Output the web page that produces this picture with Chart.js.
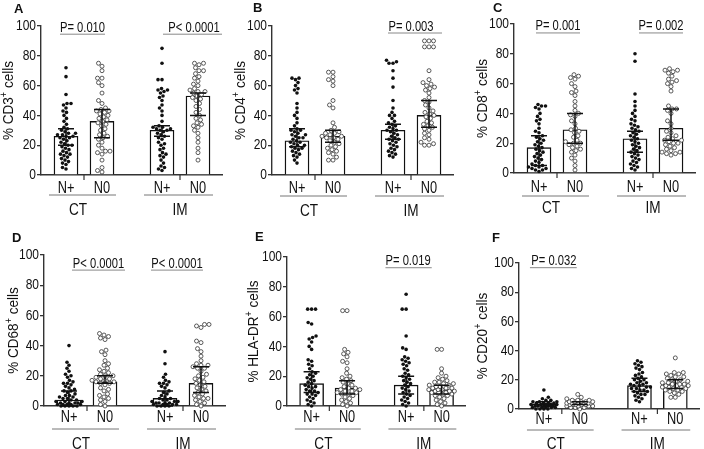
<!DOCTYPE html>
<html>
<head>
<meta charset="utf-8">
<script src="https://cdn.jsdelivr.net/npm/chart.js@4.4.0/dist/chart.umd.min.js"></script>
<style>
  html, body { margin: 0; padding: 0; background: #fff; }
  #fig { position: relative; width: 704px; height: 449px; overflow: hidden; }
  #fig canvas { position: absolute; }
</style>
</head>
<body>
<div id="fig"></div>
<script>
// categories
const groups = ['N+', 'N0', 'N+', 'N0'];
const regions = ['CT', 'IM'];
const panelLetters = ['A', 'B', 'C', 'D', 'E', 'F'];
const markers = ['CD3', 'CD4', 'CD8', 'CD68', 'HLA-DR', 'CD20'];
const yTicks = [0, 20, 40, 60, 80, 100];

// individual patients: CT N+, CT N0, IM N+, IM N0
const cd3Values = [
  [72,66,54,48,48,47,45,43,42,40,38,36,34,32,31,30,29,28,28,27,27,26,26,25,25,24,23,22,21,20,20,19,18,17,16,15,14,14,13,12,11,10,9,8,7,5,4],
  [75,73,70,65,65,62,60,55,50,48,45,44,43,43,42,41,40,39,38,37,36,35,34,33,31,30,28,27,26,25,24,22,20,18,16,16,15,14,10,5,3,2],
  [85,75,64,64,58,57,57,56,55,53,52,50,47,45,43,40,36,33,32,32,31,31,30,30,29,28,27,26,25,24,22,21,20,18,17,15,14,13,12,10,8,6,5,4,3],
  [75,75,74,72,70,70,68,66,65,63,61,60,58,57,56,56,55,54,53,52,51,50,48,46,44,42,40,38,37,35,34,33,32,30,28,25,22,18,15,10]
];
const cd4Values = [
  [65,65,64,62,60,58,57,55,48,45,42,40,38,35,33,31,30,30,29,28,27,27,26,25,25,24,23,22,22,21,20,20,19,18,18,17,16,15,14,13,12,10,8],
  [69,69,66,64,63,60,50,47,45,35,32,30,29,28,28,27,26,26,25,25,24,23,22,21,20,19,18,17,16,15,14,12,10,10],
  [77,76,75,75,70,65,59,50,45,42,40,40,38,36,35,34,33,32,31,30,30,29,28,27,26,25,24,24,23,22,21,20,19,18,17,16,15,14,13,12],
  [90,90,90,86,86,86,70,64,62,61,60,59,58,57,55,52,50,49,47,45,43,42,41,40,39,38,36,35,34,33,32,31,30,28,27,25,24,22,21,20,20]
];
const cd8Values = [
  [46,45,45,44,43,40,38,36,35,33,30,28,27,25,24,23,22,21,20,19,18,17,16,15,14,13,12,11,10,9,8,7,6,5,5,4,4,3,3,2,2,1],
  [66,65,64,63,60,58,55,54,52,48,45,42,40,39,38,35,33,30,29,28,27,25,24,22,21,20,20,19,18,17,16,15,14,12,10,8,5,2],
  [80,75,53,48,45,42,40,38,36,35,33,32,31,30,29,28,27,26,25,24,23,22,21,20,19,18,17,16,15,14,13,12,11,10,9,8,7,6,5,4,3,2],
  [70,69,69,68,67,65,63,62,61,60,58,55,45,43,43,42,40,35,33,30,28,27,25,24,23,22,22,21,20,20,19,18,17,16,15,14,14,13,13,12]
];
const cd68Values = [
  [40,29,27,25,23,21,20,19,17,16,15,15,14,13,12,11,10,10,9,8,7,7,6,6,5,5,4,4,3,3,3,2,2,2,2,1,1,1,1,1,0,0,0,0,0],
  [48,47,46,45,44,37,36,34,30,28,27,25,24,23,22,21,20,20,19,18,18,17,17,16,16,15,15,14,12,11,10,8,7,6,5,4,3,1,0],
  [36,28,21,19,17,16,15,15,14,13,12,10,9,8,7,6,5,5,4,4,3,3,3,2,2,2,2,1,1,1,1,1,0,0,0,0],
  [54,54,53,52,43,42,38,36,33,30,28,27,27,26,25,25,23,21,20,19,18,17,16,15,14,13,12,11,10,9,8,7,6,5,5,4,3,2,1,0]
];
const hladrValues = [
  [65,65,65,56,55,47,46,45,43,40,38,31,30,28,27,25,23,22,21,20,19,18,17,16,15,14,13,13,12,11,10,10,9,8,8,7,6,5,4,3,2,1,0],
  [64,64,38,36,35,33,30,29,25,22,20,19,18,17,16,15,14,13,12,12,11,11,10,10,9,9,8,8,7,6,5,4,3,2,1,0],
  [75,65,65,47,39,38,33,32,31,30,29,28,27,25,24,22,21,20,19,18,17,16,15,14,13,12,11,10,9,8,7,6,5,4,3,2,1,0],
  [38,38,25,22,20,19,18,17,16,16,15,15,14,14,13,13,12,12,12,11,11,11,10,10,10,9,9,9,8,8,7,7,6,5,4,3,2,1,0]
];
const cd20Values = [
  [13,8,7,6,6,5,5,5,4,4,4,4,3,3,3,3,3,2,2,2,2,2,1,1,1,1,1,0,0,0,0],
  [10,8,7,6,6,6,5,5,5,5,5,4,4,4,4,4,4,3,3,3,3,3,2,2,2,2,1,1,1,0],
  [33,32,31,30,29,28,27,25,24,23,22,21,20,20,19,18,18,17,17,16,16,15,15,14,14,13,13,12,12,11,10,10,9,8,7,6,5],
  [35,25,25,24,24,23,22,22,21,20,20,19,19,18,18,17,17,17,16,16,16,15,15,15,14,14,13,13,12,12,11,10,8,8]
];
const allValues = [cd3Values, cd4Values, cd8Values, cd68Values, hladrValues, cd20Values];

// bar height (median) and error bar range per panel
const medians = [[26,36,30,53], [23,26,30,40], [17,29,23,30], [4,16,5,15], [15,12,14,11], [3.5,4,16,17]];
const errLow  = [[20,25,26,40], [19,22,24,32], [5,20,14,22], [0,15,0,9], [9,8,8,8], [2,3,12,14]];
const errHigh = [[31,44,33,55], [31,30,34,50], [25,40,28,43], [10,20,10,26], [23,17,20,14], [5,5,21,20]];

// p values: [CT, IM]
const pValues = [
  ['P= 0.010', 'P< 0.0001'],
  [null, 'P= 0.003'],
  ['P= 0.001', 'P= 0.002'],
  ['P< 0.0001', 'P< 0.0001'],
  [null, 'P= 0.019'],
  ['P= 0.032', null]
];

// ---- layout ----
const FONT = "'Liberation Sans', Arial, sans-serif";
const NARROW = 0.8;
const xPos = [25, 61, 121, 157];
const axisLen = 181;
const panels = [
  {left: 0,   top: 0,   w: 240, h: 225, ax: 41, yTop: 26, yBot: 175, letter: [14, 3],  titleOff: 28, nBase: 18, ulOff: 20, grpBase: 40,
   p: [{x0: 19, x1: 64, tx: 41.5, y: 94.5}, {x0: 122, x1: 181, tx: 153, y: 94.5}]},
  {left: 230, top: 0,   w: 240, h: 225, ax: 42, yTop: 26, yBot: 175, letter: [23, 2],  titleOff: 27, nBase: 18, ulOff: 21, grpBase: 41,
   p: [null, {x0: 116, x1: 170, tx: 139, y: 95.3}]},
  {left: 460, top: 0,   w: 244, h: 225, ax: 54, yTop: 24, yBot: 173, letter: [33, 2],  titleOff: 27, nBase: 19, ulOff: 23, grpBase: 40,
   p: [{x0: 22, x1: 66, tx: 44, y: 94}, {x0: 125, x1: 169, tx: 147, y: 94}]},
  {left: 0,   top: 225, w: 240, h: 224, ax: 44, yTop: 30, yBot: 181, letter: [12, 7],  titleOff: 26, nBase: 16, ulOff: 23, grpBase: 43,
   p: [{x0: 28, x1: 81, tx: 54.5, y: 90}, {x0: 107, x1: 159, tx: 133, y: 90}]},
  {left: 230, top: 225, w: 240, h: 224, ax: 57, yTop: 32, yBot: 181, letter: [25, 6],  titleOff: 29, nBase: 16, ulOff: 23, grpBase: 43,
   p: [null, {x0: 100, x1: 147, tx: 123, y: 92.8}]},
  {left: 460, top: 225, w: 244, h: 224, ax: 59, yTop: 38, yBot: 184, letter: [32, 7],  titleOff: 32, nBase: 15, ulOff: 21, grpBase: 40,
   p: [{x0: 11, x1: 58, tx: 35, y: 96.8}, null]}
];
const regionLine = [[8, 75], [103, 172]];
const regionText = [37, 139];
const midTicks = [43, 139];
const maxSpread = 13;

// simple beeswarm: spreads points sideways, overlapping them once the band is full
function swarm(values, center, pxPerUnit, dia) {
  const placed = [];
  const pts = [];
  values.slice().sort((a, b) => a - b).forEach(v => {
    const py = v * pxPerUnit;
    let best = 0, bestGap = -1;
    for (let k = 0; k < 200; k++) {
      const off = (k % 2 ? -1 : 1) * Math.ceil(k / 2) * 0.5;
      if (Math.abs(off) > maxSpread) break;
      let gap = Infinity;
      placed.forEach(p => { gap = Math.min(gap, Math.hypot(p.x - off, p.y - py)); });
      if (gap > bestGap) { bestGap = gap; best = off; }
      if (gap >= dia) break;
    }
    placed.push({x: best, y: py});
    pts.push({x: center + best, y: v});
  });
  return pts;
}

// condensed text (the figure uses a narrow sans)
function narrowText(c, txt, x, y, size, align, baseline) {
  c.save();
  c.translate(x, y);
  c.scale(NARROW, 1);
  c.font = size + 'px ' + FONT;
  c.textAlign = align || 'center';
  c.textBaseline = baseline || 'alphabetic';
  c.fillText(txt, 0, 0);
  c.restore();
}

const fig = document.getElementById('fig');

panels.forEach((L, i) => {
  const canvas = document.createElement('canvas');
  canvas.width = L.w;
  canvas.height = L.h;
  canvas.style.left = L.left + 'px';
  canvas.style.top = L.top + 'px';
  fig.appendChild(canvas);

  const pxPerUnit = (L.yBot - L.yTop) / 100;
  const vals = allValues[i];
  const filled = swarm(vals[0], xPos[0], pxPerUnit, 3.6).concat(swarm(vals[2], xPos[2], pxPerUnit, 3.6));
  const open = swarm(vals[1], xPos[1], pxPerUnit, 4.3).concat(swarm(vals[3], xPos[3], pxPerUnit, 4.3));

  const decor = {
    id: 'decor' + i,
    afterDatasetsDraw(chart) {
      const c = chart.ctx, xs = chart.scales.x, ys = chart.scales.y;
      c.save();
      c.strokeStyle = '#111';
      c.lineWidth = 1.5;
      xPos.forEach((x, j) => {
        const px = xs.getPixelForValue(x);
        const lo = ys.getPixelForValue(errLow[i][j]);
        const hi = ys.getPixelForValue(errHigh[i][j]);
        c.beginPath();
        c.moveTo(px, lo); c.lineTo(px, hi);
        c.moveTo(px - 8, lo); c.lineTo(px + 8, lo);
        c.moveTo(px - 8, hi); c.lineTo(px + 8, hi);
        c.stroke();
      });
      c.restore();
    },
    afterDraw(chart) {
      const c = chart.ctx, xs = chart.scales.x, ys = chart.scales.y;
      const bottom = chart.chartArea.bottom;
      const axisX = chart.chartArea.left;
      c.save();
      c.fillStyle = '#111';

      // panel letter
      c.font = 'bold 13px Arial, sans-serif';
      c.textBaseline = 'top';
      c.textAlign = 'left';
      c.fillText(panelLetters[i], L.letter[0], L.letter[1]);

      // y tick labels
      yTicks.forEach(v => narrowText(c, String(v), axisX - 5, ys.getPixelForValue(v), 15, 'right', 'middle'));

      // y axis title with superscript +
      c.save();
      c.translate(axisX - L.titleOff, (chart.chartArea.top + bottom) / 2);
      c.rotate(-Math.PI / 2);
      c.scale(0.9, 1);
      c.textBaseline = 'alphabetic';
      c.textAlign = 'left';
      const big = '15px ' + FONT, small = '10px ' + FONT;
      const parts = [['% ' + markers[i], big, 0], ['+', small, -6], [' cells', big, 0]];
      let total = 0;
      parts.forEach(p => { c.font = p[1]; total += c.measureText(p[0]).width; });
      let cx = -total / 2;
      parts.forEach(p => {
        c.font = p[1];
        c.fillText(p[0], cx, p[2]);
        cx += c.measureText(p[0]).width;
      });
      c.restore();

      // group labels under the axis
      xPos.forEach((x, j) => narrowText(c, groups[j], xs.getPixelForValue(x), bottom + L.nBase, 16));

      c.strokeStyle = '#333';
      c.lineWidth = 1.2;
      midTicks.forEach(x => {
        const px = xs.getPixelForValue(x);
        c.beginPath(); c.moveTo(px, bottom); c.lineTo(px, bottom + 5); c.stroke();
      });

      c.strokeStyle = '#777';
      c.lineWidth = 1;
      regions.forEach((r, k) => {
        c.beginPath();
        c.moveTo(xs.getPixelForValue(regionLine[k][0]), bottom + L.ulOff);
        c.lineTo(xs.getPixelForValue(regionLine[k][1]), bottom + L.ulOff);
        c.stroke();
        narrowText(c, r, xs.getPixelForValue(regionText[k]), bottom + L.grpBase, 17);
      });

      // p values
      pValues[i].forEach((txt, k) => {
        const g = L.p[k];
        if (!txt || !g) return;
        const py = ys.getPixelForValue(g.y);
        c.strokeStyle = '#888';
        c.beginPath();
        c.moveTo(xs.getPixelForValue(g.x0), py);
        c.lineTo(xs.getPixelForValue(g.x1), py);
        c.stroke();
        narrowText(c, txt, xs.getPixelForValue(g.tx), py - 2.5, 14);
      });
      c.restore();
    }
  };

  new Chart(canvas.getContext('2d'), {
    data: {
      datasets: [
        {
          type: 'bar',
          data: medians[i].map((m, j) => ({x: xPos[j], y: m})),
          backgroundColor: '#ffffff',
          borderColor: '#111',
          borderWidth: 1.4,
          barThickness: 24,
          grouped: false,
          order: 3
        },
        {
          type: 'scatter',
          data: filled,
          pointRadius: 1.8,
          backgroundColor: '#111',
          borderWidth: 0,
          clip: false,
          order: 2
        },
        {
          type: 'scatter',
          data: open,
          pointRadius: 2.0,
          backgroundColor: '#ffffff',
          borderColor: '#333',
          borderWidth: 0.8,
          clip: false,
          order: 1
        }
      ]
    },
    options: {
      responsive: false,
      animation: false,
      devicePixelRatio: 1,
      layout: {padding: {top: L.yTop, right: L.w - L.ax - axisLen, left: 0, bottom: 0}},
      plugins: {legend: {display: false}, tooltip: {enabled: false}},
      scales: {
        x: {
          type: 'linear',
          offset: false,
          min: 0,
          max: axisLen,
          grid: {display: false},
          ticks: {display: false},
          border: {color: '#333', width: 1.4},
          afterFit: s => { s.height = L.h - L.yBot; }
        },
        y: {
          min: 0,
          max: 100,
          afterBuildTicks: s => { s.ticks = yTicks.map(v => ({value: v})); },
          ticks: {display: false},
          grid: {drawOnChartArea: false, tickLength: 4, color: '#333', lineWidth: 1.3},
          border: {color: '#333', width: 1.4},
          afterFit: s => { s.width = L.ax; }
        }
      }
    },
    plugins: [decor]
  });
});
</script>
</body>
</html>
